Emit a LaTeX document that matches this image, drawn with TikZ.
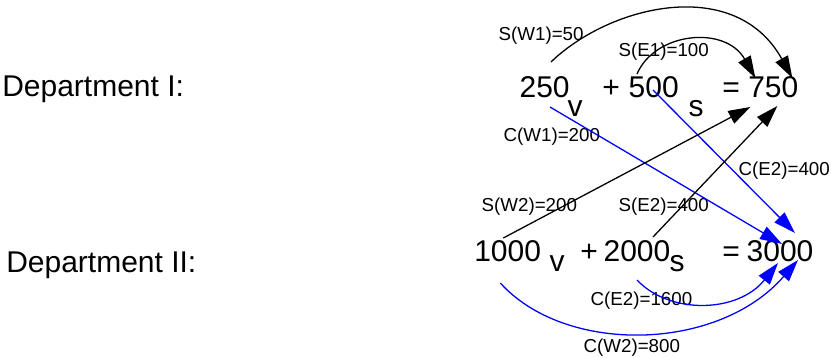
\documentclass[tikz,border=0pt]{standalone}
\usepackage{fontspec}
\setmainfont{Liberation Sans}
\usepackage{tikz}
\usetikzlibrary{arrows.meta}

\begin{document}
\begin{tikzpicture}[>={Triangle[length=0.66cm,width=0.42cm]}, line width=1.1pt,
  txt/.style={anchor=base west, inner sep=0pt, font=\fontsize{25.6}{30}\selectfont},
  lbl/.style={anchor=base west, inner sep=0pt, font=\fontsize{16}{19}\selectfont},
  svline/.style={->,black},
  cvline/.style={->,blue}]
\useasboundingbox (0,0) rectangle (24.93,10.74);

\node[txt] (dI) at (0.05,7.83) {Department I:};
\node[txt] (dII) at (0.17,2.55) {Department II:};

% department I
\node[txt] (n250) at (15.57,7.80) {250};
\node[txt] (v1) at (17.01,7.23) {v};
\node[txt] (p1) at (18.05,7.80) {+};
\node[txt] (n500) at (18.84,7.80) {500};
\node[txt] (s1) at (20.64,7.23) {s};
\node[txt] (e1) at (21.65,7.80) {=};
\node[txt] (n750) at (22.43,7.80) {750};

% department II
\node[txt] (n1000) at (14.21,2.88) {1000};
\node[txt] (v2) at (16.47,2.58) {v};
\node[txt] (p2) at (17.39,2.88) {+};
\node[txt] (n2000) at (18.09,2.88) {2000};
\node[txt] (s2) at (20.07,2.58) {s};
\node[txt] (e2) at (21.65,2.88) {=};
\node[txt] (n3000) at (22.38,2.88) {3000};

\node[lbl] (lsw1) at (14.94,9.51) {S(W1)=50};
\node[lbl] (lse1) at (18.54,9.03) {S(E1)=100};
\node[lbl] (lcw1) at (15.09,6.48) {C(W1)=200};
\node[lbl] (lce2a) at (22.14,5.46) {C(E2)=400};
\node[lbl] (lsw2) at (14.43,4.38) {S(W2)=200};
\node[lbl] (lse2) at (18.54,4.38) {S(E2)=400};
\node[lbl] (lce2b) at (17.70,1.56) {C(E2)=1600};
\node[lbl] (lcw2) at (17.49,0.15) {C(W2)=800};

\draw[svline] ([shift={(0.96,1.08)}]n250.base west) .. controls +(1.77,1.71) and +(-1.71,3.09) .. ([shift={(1.34,0.60)}]n750.base west);
\draw[svline] ([shift={(0.27,0.72)}]n500.base west) .. controls +(0.54,1.26) and +(-0.90,1.59) .. ([shift={(0.23,0.60)}]n750.base west);
\draw[cvline] ([shift={(0.93,-0.27)}]n250.base west) -- ([shift={(1.08,0.54)}]n3000.base west);
\draw[cvline] ([shift={(0.75,0.24)}]n500.base west) -- ([shift={(1.47,0.87)}]n3000.base west);
\draw[svline] ([shift={(0.89,0.72)}]n1000.base west) -- ([shift={(0.08,-0.27)}]n750.base west);
\draw[svline] ([shift={(1.50,0.75)}]n2000.base west) -- ([shift={(0.89,-0.24)}]n750.base west);
\draw[cvline] ([shift={(1.02,-0.54)}]n2000.base west) .. controls +(0.99,-1.05) and +(-1.20,-1.50) .. ([shift={(0.96,-0.03)}]n3000.base west);
\draw[cvline] ([shift={(0.80,-0.63)}]n1000.base west) .. controls +(1.95,-2.16) and +(-2.40,-2.76) .. ([shift={(1.56,0.06)}]n3000.base west);
\end{tikzpicture}
\end{document}
